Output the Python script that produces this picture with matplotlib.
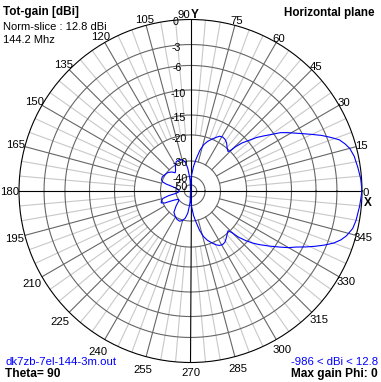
import numpy as np
import matplotlib
matplotlib.use("Agg")
import matplotlib.pyplot as plt
from matplotlib.transforms import ScaledTranslation

# gain rings of the plot (dB) and their radius as a fraction of the outer circle
ring_db = [0, -3, -6, -10, -15, -20, -30, -40, -50]
ring_r = [1.0, 0.854, 0.732, 0.589, 0.443, 0.327, 0.175, 0.085, 0.036]
ring_labels = ["0", "-3", "-6", "-10", "-15", "-20", "-30", "-40", "-50"]

# horizontal pattern: azimuth (deg) and normalized gain (dB)
phi = [0, 4, 8, 12, 15, 17, 19, 21, 23, 25, 27, 29, 31, 33, 35, 37, 39, 41, 43,
       44.5, 45.5, 46.5, 48, 50, 53, 56, 59, 62, 65, 68, 71, 74, 77, 80, 83, 86,
       88, 90, 92, 94, 97, 100, 104, 110, 116, 121, 126, 130, 135, 141, 148,
       154, 159, 162, 164, 166, 170, 175, 180, 185, 189, 192, 195, 198, 202,
       205, 207, 210, 215, 220, 226, 232, 238, 244, 250, 255, 259, 263, 266,
       268, 270, 272, 274, 277, 280, 283, 286, 289, 292, 295, 298, 301, 304,
       307, 310, 312, 313.5, 315, 316, 318, 320, 322, 325, 328, 330, 332, 334,
       336, 338, 340, 342, 344, 347, 350, 355, 360]
gain = [0, -0.1, -0.3, -0.5, -0.8, -1.2, -1.7, -2.6, -3.6, -4.8, -5.9, -7.0,
        -8.0, -9.0, -10.5, -11.9, -13.2, -14.8, -16.4, -18.2, -20.0, -20.6,
        -20.3, -19.8, -19.0, -18.5, -18.3, -18.5, -19.3, -20.2, -21.4, -23.0,
        -25.5, -29.0, -33.5, -39.0, -45.0, -986, -45.0, -40.0, -34.5, -30.5,
        -29.2, -28.7, -29.0, -30.5, -33.0, -34.0, -32.0, -30.5, -29.8, -29.4,
        -29.6, -30.5, -33.0, -37.0, -41.0, -43.0, -44.0, -43.0, -40.0, -35.0,
        -31.0, -29.8, -29.4, -31.0, -35.0, -38.0, -40.0, -39.5, -36.0, -32.0,
        -30.5, -29.5, -29.2, -29.8, -31.5, -35.0, -40.0, -45.0, -986, -45.0,
        -39.5, -33.5, -29.5, -26.0, -23.3, -21.5, -20.2, -19.2, -18.6, -18.4,
        -18.6, -19.2, -19.8, -20.3, -20.5, -19.2, -17.5, -15.5, -14.0, -12.8,
        -11.0, -9.2, -8.0, -7.0, -5.7, -4.5, -3.3, -2.3, -1.6, -1.1, -0.6,
        -0.4, -0.2, 0]

FONT = "Liberation Sans"
BLUE = "#0000ff"
DARK = "#666666"
LIGHT = "#c8c8c8"


def to_r(db):
    # MMANA style log scale, everything below the last ring goes to the centre
    db = np.clip(np.asarray(db, dtype=float), -60, 0)
    return np.interp(db, [-60] + ring_db[::-1], [0.0] + ring_r[::-1])


fig = plt.figure(figsize=(3.81, 3.82), dpi=100)
fig.patch.set_facecolor("white")
ax = fig.add_axes([19 / 381, 19.5 / 382, 343 / 381, 343 / 382], projection="polar")
ax.set_ylim(0, 1)
ax.set_xticks([])
ax.set_yticks([])
ax.grid(False)
ax.spines["polar"].set_color("black")
ax.spines["polar"].set_linewidth(0.8)

# radial grid lines: light every 5 deg, dark every 15 deg, black axes
for a in range(0, 360, 5):
    t = np.radians(a)
    if a % 90 == 0:
        ax.plot([t, t], [0, 1], color="black", lw=0.8, zorder=3)
    elif a % 15 == 0:
        ax.plot([t, t], [ring_r[6], 1], color=DARK, lw=0.8, zorder=2)
    else:
        ax.plot([t, t], [ring_r[5], 1], color=LIGHT, lw=0.8, zorder=1)

# gain rings
circ = np.linspace(0, 2 * np.pi, 361)
for r in ring_r[1:]:
    ax.plot(circ, np.full_like(circ, r), color=DARK, lw=0.8, zorder=2)

# the pattern
ax.plot(np.radians(phi), to_r(gain), color=BLUE, lw=0.8, zorder=5)

px = 1 / 100.0


def shift(dx, dy):
    return ax.transData + ScaledTranslation(dx * px, dy * px, fig.dpi_scale_trans)


# azimuth labels
for a in range(15, 360, 15):
    if a == 90:
        continue
    c, s = np.cos(np.radians(a)), np.sin(np.radians(a))
    rp = 177 + 4 * max(0, -c) + 6 * max(0, -s)
    if a == 270:
        rp = 181
    ax.text(np.radians(a), rp / 171.5, str(a), ha="center", va="baseline",
            fontsize=8.2, family=FONT, transform=shift(0, -4), clip_on=False)
ax.text(np.pi / 2, 177.5 / 171.5, "90", ha="right", va="baseline", fontsize=8.2,
        family=FONT, transform=shift(0, -4), clip_on=False)
ax.text(np.pi / 2, 177.5 / 171.5, "Y", ha="left", va="baseline", fontsize=8.5,
        family=FONT, weight="bold", transform=shift(0, -4), clip_on=False)
ax.text(0, 175.5 / 171.5, "0", ha="center", va="baseline", fontsize=8.2,
        family=FONT, transform=shift(0, -5), clip_on=False)
ax.text(0, 177 / 171.5, "X", ha="center", va="baseline", fontsize=8.5,
        family=FONT, weight="bold", transform=shift(0, -14.5), clip_on=False)

# gain labels along the vertical axis (small drop below each ring)
label_drop = [2.0, 3.0, 2.0, 3.5, 2.0, 3.5, 1.5, 1.3, 1.8]
for r, lab, d in zip(ring_r, ring_labels, label_drop):
    ax.text(np.pi / 2, r, lab, ha="center", va="baseline", fontsize=7.7,
            family=FONT, transform=shift(-(10 + 4.5 * r), -(d + 3.8)), zorder=6)

# corner texts
W, H = 381.0, 382.0
fig.text(3 / W, 1 - 14.5 / H, "Tot-gain [dBi]", fontsize=8.5, weight="bold", family=FONT)
fig.text(3 / W, 1 - 30 / H, "Norm-slice : 12.8 dBi", fontsize=8, family=FONT)
fig.text(3 / W, 1 - 42.7 / H, "144.2 Mhz", fontsize=8, family=FONT)
fig.text(375 / W, 1 - 16 / H, "Horizontal plane", fontsize=8.4, weight="bold",
         family=FONT, ha="right")
fig.text(5 / W, 1 - 365 / H, "dk7zb-7el-144-3m.out", fontsize=8.2, family=FONT, color=BLUE)
fig.text(5 / W, 1 - 377.3 / H, "Theta= 90", fontsize=8.6, weight="bold", family=FONT)
fig.text(378 / W, 1 - 365 / H, "-986 < dBi < 12.8", fontsize=8.2, family=FONT,
         color=BLUE, ha="right")
fig.text(378 / W, 1 - 377.3 / H, "Max gain Phi: 0", fontsize=8.6, weight="bold",
         family=FONT, ha="right")

fig.savefig("out.png", dpi=100)
